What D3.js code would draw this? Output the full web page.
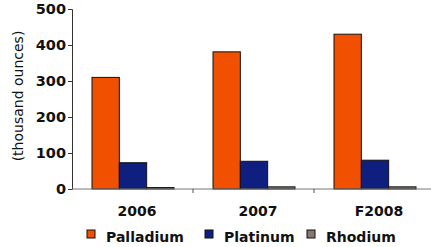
<!DOCTYPE html>
<html>
<head>
<meta charset="utf-8">
<script src="https://cdn.jsdelivr.net/npm/d3@7"></script>
<style>
  body { margin: 0; background: #fff; }
  text { font-family: "DejaVu Sans", Verdana, sans-serif; }
</style>
</head>
<body>
<div id="chart"></div>
<script>
// categories and series
var years = ["2006", "2007", "F2008"];
var metals = ["Palladium", "Platinum", "Rhodium"];
var palladium = [310, 381, 430];
var platinum = [73, 77, 80];
var rhodium = [4, 6, 6];
var yTicks = [0, 100, 200, 300, 400, 500];
var colors = ["#f05000", "#0f1f80", "#857870"];

var svgWidth = 431;
var svgHeight = 247;

var margin = { top: 9, right: -4, bottom: 58, left: 72 };
var width = svgWidth - margin.left - margin.right;
var height = svgHeight - margin.top - margin.bottom;

var svg = d3.select("#chart")
  .append("svg")
  .attr("width", svgWidth)
  .attr("height", svgHeight);

var chartGroup = svg.append("g")
  .attr("transform", `translate(${margin.left}, ${margin.top})`);

var data = years.map(function(y, i) {
  return { year: y, values: [palladium[i], platinum[i], rhodium[i]] };
});

var x0 = d3.scaleBand().domain(years).range([0, width]);
var x1 = d3.scaleBand().domain(metals).range([20, 102]);
var yScale = d3.scaleLinear().domain([0, 500]).range([height, 0]);

// bars
var groups = chartGroup.selectAll(".year")
  .data(data)
  .enter()
  .append("g")
  .attr("transform", d => `translate(${x0(d.year)}, 0)`);

groups.selectAll("rect")
  .data(d => d.values)
  .enter()
  .append("rect")
  .attr("x", (d, i) => x1(metals[i]))
  .attr("y", d => yScale(d))
  .attr("width", x1.bandwidth())
  .attr("height", d => height - yScale(d))
  .attr("fill", (d, i) => colors[i])
  .attr("stroke", "#111")
  .attr("stroke-width", 1);

// y axis
var leftAxis = d3.axisLeft(yScale).tickValues(yTicks).tickSize(4).tickPadding(2);
var yAxis = chartGroup.append("g").call(leftAxis);
yAxis.select(".domain").attr("stroke", "#333");
yAxis.selectAll(".tick line").attr("stroke", "#333");
yAxis.selectAll("text")
  .style("font-size", "14.5px")
  .style("font-weight", "bold")
  .attr("fill", "#111");

// x axis: ticks at category boundaries
var xAxisG = chartGroup.append("g").attr("transform", `translate(0, ${height})`);
xAxisG.append("line")
  .attr("x1", 0).attr("x2", width)
  .attr("stroke", "#777");
xAxisG.selectAll(".sep")
  .data(years.slice(1))
  .enter()
  .append("line")
  .attr("x1", d => x0(d)).attr("x2", d => x0(d))
  .attr("y1", 0).attr("y2", 4)
  .attr("stroke", "#555");
xAxisG.selectAll(".lab")
  .data(years)
  .enter()
  .append("text")
  .attr("x", d => x0(d) + 61 + 4)
  .attr("y", 27)
  .attr("text-anchor", "middle")
  .style("font-size", "14px")
  .style("font-weight", "bold")
  .attr("fill", "#111")
  .text(d => d);

// y axis label
chartGroup.append("text")
  .attr("transform", "rotate(-90)")
  .attr("x", 0 - 87)
  .attr("y", 0 - margin.left + 23)
  .attr("text-anchor", "middle")
  .style("font-size", "14px")
  .attr("fill", "#111")
  .text("(thousand ounces)");

// legend
var legendX = [87, 205, 307];
var legend = svg.selectAll(".legend")
  .data(metals)
  .enter()
  .append("g")
  .attr("transform", (d, i) => `translate(${legendX[i]}, 230)`);

legend.append("rect")
  .attr("width", 8)
  .attr("height", 8)
  .attr("fill", (d, i) => colors[i])
  .attr("stroke", "#111")
  .attr("stroke-width", 1);

legend.append("text")
  .attr("x", 19)
  .attr("y", 12)
  .style("font-size", "14px")
  .style("font-weight", "bold")
  .attr("fill", "#111")
  .text(d => d);
</script>
</body>
</html>
